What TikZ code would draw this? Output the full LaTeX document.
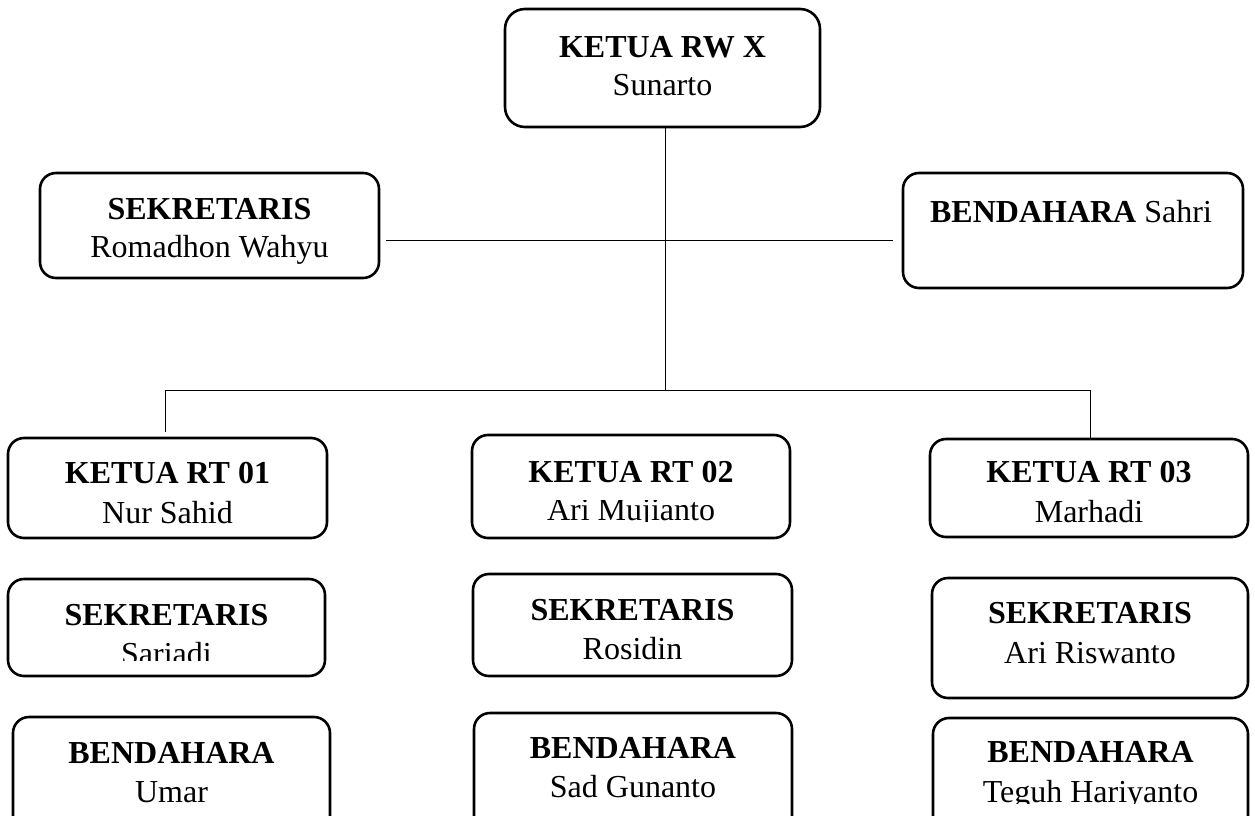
\documentclass[tikz,border=0pt]{standalone}
\usepackage{fontspec}
\setmainfont{Liberation Serif}
\begin{document}
\begin{tikzpicture}[x=1pt,y=-1pt,
  box/.style={draw, line width=2.6pt, rounded corners=16pt, inner sep=0pt, outer sep=0pt},
  lbl/.style={anchor=base, inner sep=0pt, outer sep=0pt, font=\fontsize{32}{39}\selectfont},
  hd/.style={lbl, font=\fontsize{32}{39}\selectfont\bfseries},
  conn/.style={line width=1pt}]
\useasboundingbox (0,0) rectangle (1255,816);
\fill[white] (0,0) rectangle (1255,816);
\clip (0,0) rectangle (1255,816);

% boxes
\node[box, rounded corners=20pt, minimum width=315pt, minimum height=118pt] (rw) at (662.5,68) {};
\node[box, minimum width=339pt, minimum height=105pt] (sek) at (209.5,225.5) {};
\node[box, minimum width=340pt, minimum height=115pt] (bend) at (1073,230.5) {};
\node[box, minimum width=319pt, minimum height=100pt] (rt1) at (167.5,488) {};
\node[box, minimum width=318pt, minimum height=103pt] (rt2) at (631,486.5) {};
\node[box, minimum width=318pt, minimum height=98pt] (rt3) at (1089,488) {};
\node[box, minimum width=317pt, minimum height=97pt] (s1) at (166.5,627.5) {};
\node[box, minimum width=319pt, minimum height=102pt] (s2) at (632.5,625) {};
\node[box, minimum width=316pt, minimum height=120pt] (s3) at (1090,638) {};
\node[box, minimum width=317pt, minimum height=133pt] (b1) at (171.5,783.5) {};
\node[box, minimum width=318pt, minimum height=137pt] (b2) at (633,781.5) {};
\node[box, minimum width=315pt, minimum height=132pt] (b3) at (1090.5,784) {};

% texts
\node[hd] (rwT) at (662.5,57) {KETUA RW X};
\node[lbl] (rwN) at (662.5,95) {Sunarto};
\node[hd] (sekT) at (209.5,219) {SEKRETARIS};
\node[lbl] (sekN) at (209.5,257) {Romadhon Wahyu};
\node[lbl] (bendT) at (1071,222) {\textbf{BENDAHARA} Sahri};

\node[hd] (rt1T) at (167.5,483) {KETUA RT 01};
\node[lbl] (rt1N) at (167.5,523) {Nur Sahid};
\node[hd] (rt2T) at (631,482) {KETUA RT 02};
\begin{scope}
  \clip (472,500) rectangle (790,521.5);
  \node[lbl] (rt2N) at (631,520) {Ari Mujianto};
\end{scope}
\node[hd] (rt3T) at (1089,482) {KETUA RT 03};
\node[lbl] (rt3N) at (1089,522) {Marhadi};

\node[hd] (s1T) at (166.5,625) {SEKRETARIS};
\begin{scope}
  \clip (8,630) rectangle (325,660);
  \node[lbl] (s1N) at (166.5,664) {Sariadi};
\end{scope}
\node[hd] (s2T) at (632.5,620) {SEKRETARIS};
\node[lbl] (s2N) at (632.5,659) {Rosidin};
\node[hd] (s3T) at (1090,623) {SEKRETARIS};
\node[lbl] (s3N) at (1090,663) {Ari Riswanto};

\node[hd] (b1T) at (171.5,763) {BENDAHARA};
\node[lbl] (b1N) at (171.5,802) {Umar};
\node[hd] (b2T) at (633,758) {BENDAHARA};
\node[lbl] (b2N) at (633,797) {Sad Gunanto};
\node[hd] (b3T) at (1090.5,762) {BENDAHARA};
\begin{scope}
  \clip (933,770) rectangle (1248,803);
  \node[lbl] (b3N) at (1090.5,802) {Teguh Hariyanto};
\end{scope}

% connectors
\coordinate (jn) at (665,390);
\coordinate (j1) at (165,390);
\coordinate (j3) at (1090,390);
\coordinate (e1) at (165,432);
\coordinate (hl) at (386,240);
\coordinate (hr) at (893,240);
\draw[conn] (rw.south -| jn) -- (jn);
\draw[conn] (j1) -- (j3);
\draw[conn] (j1) -- (e1);
\draw[conn] (j3) -- (rt3.north -| j3);
\draw[conn] (hl) -- (hr);
\end{tikzpicture}
\end{document}
